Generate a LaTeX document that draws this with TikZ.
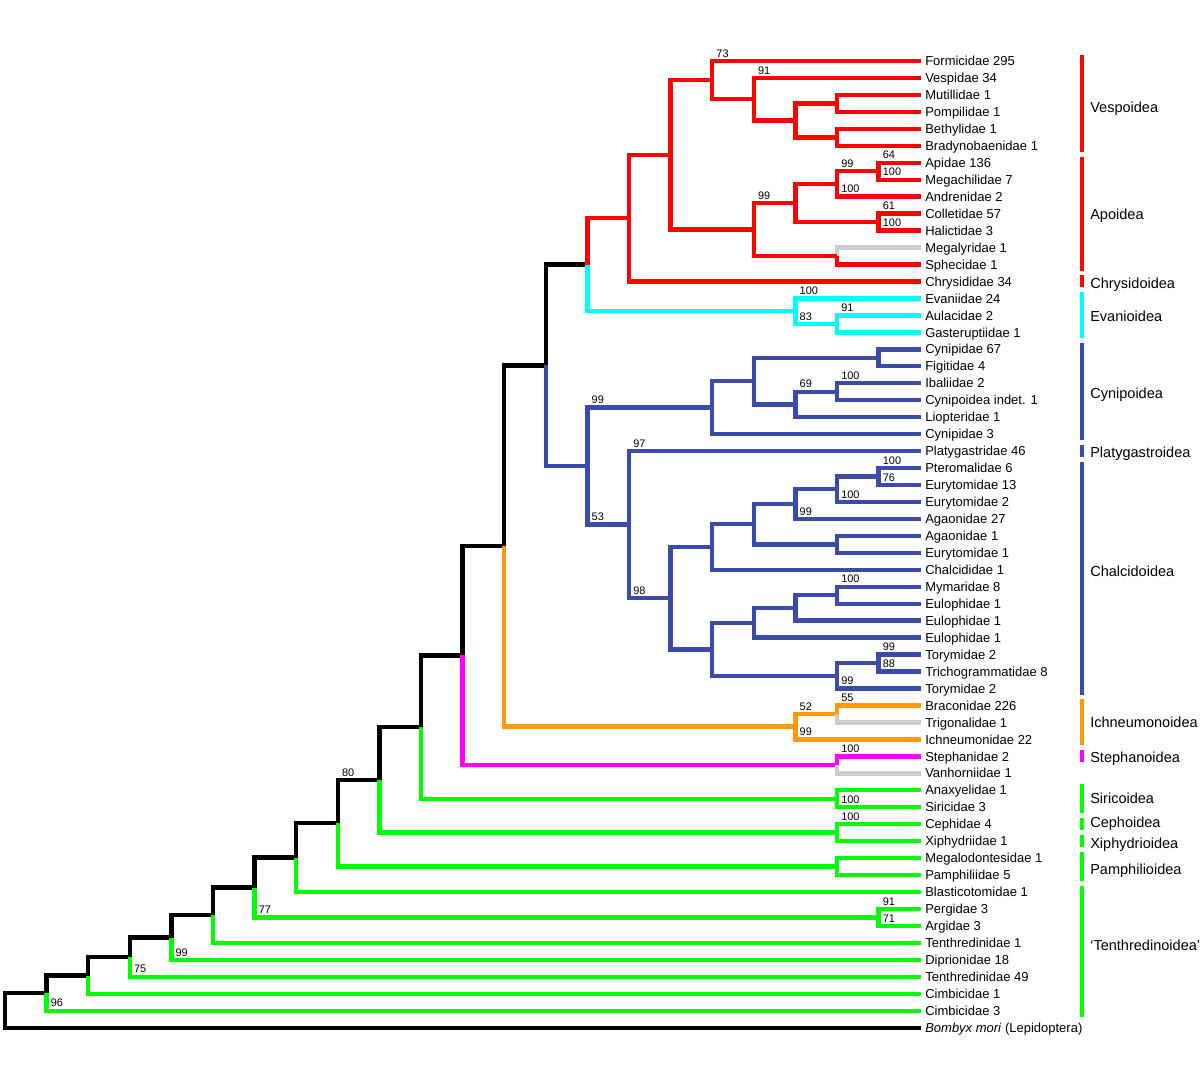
\documentclass[tikz,border=0pt]{standalone}
\usepackage{fontspec}
\setmainfont{Liberation Sans}
\usetikzlibrary{calc}
\definecolor{cladered}{HTML}{FF0000}
\definecolor{cladecyan}{HTML}{00FFFF}
\definecolor{cladeblue}{HTML}{3A4BA8}
\definecolor{cladeorange}{HTML}{FF9A10}
\definecolor{cladepink}{HTML}{FF00FF}
\definecolor{cladegreen}{HTML}{00FF00}
\definecolor{cladegrey}{HTML}{CCCCCC}
\newcommand{\clade}[4]{\path let \p1=(#3), \p2=(#4) in ({(5+41.6*#2)*0.75pt},{(\y1+\y2)/2}) coordinate (#1);}

\begin{document}
\begin{tikzpicture}[x=0.75pt, y=-0.75pt,
  branch/.style={line width=3.3pt},
  groupbar/.style={line width=3.2pt},
  leaf/.style={anchor=base west, inner sep=0pt, xshift=3pt, yshift=-3.5pt, font=\fontsize{9.75}{11}\selectfont},
  support/.style={anchor=base west, inner sep=0pt, xshift=3pt, yshift=2.9pt, font=\fontsize{8.2}{9}\selectfont},
  group/.style={anchor=base west, inner sep=0pt, yshift=-3.9pt, font=\fontsize{10.9}{12}\selectfont}]
\path[use as bounding box, fill=white] (0,0) rectangle (1200,1091);

\foreach \t [count=\i] in {Formicidae 295, Vespidae 34, Mutillidae 1, Pompilidae 1, Bethylidae 1,
  Bradynobaenidae 1, Apidae 136, Megachilidae 7, Andrenidae 2, Colletidae 57, Halictidae 3,
  Megalyridae 1, Sphecidae 1, Chrysididae 34, Evaniidae 24, Aulacidae 2, Gasteruptiidae 1,
  Cynipidae 67, Figitidae 4, Ibaliidae 2, Cynipoidea indet. 1, Liopteridae 1, Cynipidae 3,
  Platygastridae 46, Pteromalidae 6, Eurytomidae 13, Eurytomidae 2, Agaonidae 27, Agaonidae 1,
  Eurytomidae 1, Chalcididae 1, Mymaridae 8, Eulophidae 1, Eulophidae 1, Eulophidae 1,
  Torymidae 2, Trichogrammatidae 8, Torymidae 2, Braconidae 226, Trigonalidae 1, Ichneumonidae 22,
  Stephanidae 2, Vanhorniidae 1, Anaxyelidae 1, Siricidae 3, Cephidae 4, Xiphydriidae 1,
  Megalodontesidae 1, Pamphiliidae 5, Blasticotomidae 1, Pergidae 3, Argidae 3, Tenthredinidae 1,
  Diprionidae 18, Tenthredinidae 49, Cimbicidae 1, Cimbicidae 3, {\textit{Bombyx mori} (Lepidoptera)}}{
  \coordinate (L\i) at (921,{61+16.96*(\i-1)});
  \node[leaf] (T\i) at (L\i) {\t};
}

\foreach \nm/\lv/\ca/\cb in {vesp3/20/L3/L4, vesp4/20/L5/L6, vesp2/19/vesp3/vesp4, vesp1/18/L2/vesp2,
  vesp/17/L1/vesp1, apo3/21/L7/L8, apo2/20/apo3/L9, apo4/21/L10/L11, apo1/19/apo2/apo4,
  apo5/20/L12/L13, apo/18/apo1/apo5, acul/16/vesp/apo, aculr/15/acul/L14,
  evan1/20/L16/L17, evan/19/L15/evan1, aceva/14/aculr/evan,
  cyn2/21/L18/L19, cyn4/20/L20/L21, cyn3/19/cyn4/L22, cyn1/18/cyn2/cyn3, cyn/17/cyn1/L23,
  ch1/21/L25/L26, ch2/20/ch1/L27, ch3/19/ch2/L28, ch4/20/L29/L30, ch5/18/ch3/ch4, ch6/17/ch5/L31,
  ch7/20/L32/L33, ch8/19/ch7/L34, ch9/18/ch8/L35, ch10/21/L36/L37, ch11/20/ch10/L38,
  ch12/17/ch9/ch11, chal/16/ch6/ch12, platy/15/L24/chal, prot/14/cyn/platy, bb13/13/aceva/prot,
  ichn1/20/L39/L40, ichn/19/ichn1/L41, bb12/12/bb13/ichn, steph/20/L42/L43, bb11/11/bb12/steph,
  siri/20/L44/L45, bb10/10/bb11/siri, ceph/20/L46/L47, bb9/9/bb10/ceph, pamph/20/L48/L49,
  bb8/8/bb9/pamph, bb7/7/bb8/L50, perg/21/L51/L52, bb6/6/bb7/perg, bb5/5/bb6/L53, bb4/4/bb5/L54,
  bb3/3/bb4/L55, bb2/2/bb3/L56, bb1/1/bb2/L57, bb0/0/bb1/L58}
  \clade{\nm}{\lv}{\ca}{\cb};

\foreach \pn/\cn in {bb0/bb1, bb0/L58, bb1/bb2, bb2/bb3, bb3/bb4, bb4/bb5, bb5/bb6, bb6/bb7,
  bb7/bb8, bb8/bb9, bb9/bb10, bb10/bb11, bb11/bb12, bb12/bb13, bb13/aceva}
  \draw[branch, black] (\pn) |- (\cn);
\foreach \pn/\cn in {bb1/L57, bb2/L56, bb3/L55, bb4/L54, bb5/L53, bb6/perg, perg/L51, perg/L52,
  bb7/L50, bb8/pamph, pamph/L48, pamph/L49, bb9/ceph, ceph/L46, ceph/L47, bb10/siri, siri/L44, siri/L45}
  \draw[branch, cladegreen] (\pn) |- (\cn);
\foreach \pn/\cn in {bb11/steph, steph/L42}
  \draw[branch, cladepink] (\pn) |- (\cn);
\foreach \pn/\cn in {bb12/ichn, ichn/ichn1, ichn/L41, ichn1/L39}
  \draw[branch, cladeorange] (\pn) |- (\cn);
\foreach \pn/\cn in {steph/L43, ichn1/L40, apo5/L12}
  \draw[branch, cladegrey] (\pn) |- (\cn);
\foreach \pn/\cn in {bb13/prot, prot/cyn, prot/platy, cyn/cyn1, cyn/L23, cyn1/cyn2, cyn1/cyn3,
  cyn2/L18, cyn2/L19, cyn3/cyn4, cyn3/L22, cyn4/L20, cyn4/L21, platy/L24, platy/chal, chal/ch6,
  chal/ch12, ch6/ch5, ch6/L31, ch5/ch3, ch5/ch4, ch3/ch2, ch3/L28, ch2/ch1, ch2/L27, ch1/L25,
  ch1/L26, ch4/L29, ch4/L30, ch12/ch9, ch12/ch11, ch9/ch8, ch9/L35, ch8/ch7, ch8/L34, ch7/L32,
  ch7/L33, ch11/ch10, ch11/L38, ch10/L36, ch10/L37}
  \draw[branch, cladeblue] (\pn) |- (\cn);
\foreach \pn/\cn in {aceva/evan, evan/L15, evan/evan1, evan1/L16, evan1/L17}
  \draw[branch, cladecyan] (\pn) |- (\cn);
\foreach \pn/\cn in {aceva/aculr, aculr/acul, aculr/L14, acul/vesp, acul/apo, vesp/L1, vesp/vesp1,
  vesp1/L2, vesp1/vesp2, vesp2/vesp3, vesp2/vesp4, vesp3/L3, vesp3/L4, vesp4/L5, vesp4/L6,
  apo/apo1, apo/apo5, apo1/apo2, apo1/apo4, apo2/apo3, apo2/L9, apo3/L7, apo3/L8, apo4/L10,
  apo4/L11, apo5/L13}
  \draw[branch, cladered] (\pn) |- (\cn);

\foreach \pn/\cn/\val [count=\k] in {vesp/L1/73, vesp1/L2/91, apo/apo1/99, apo2/apo3/99, apo2/L9/100,
  apo3/L7/64, apo3/L8/100, apo4/L10/61, apo4/L11/100, evan/L15/100, evan/evan1/83, evan1/L16/91,
  cyn3/cyn4/69, cyn4/L20/100, prot/cyn/99, prot/platy/53, platy/L24/97, platy/chal/98,
  ch1/L25/100, ch1/L26/76, ch2/L27/100, ch3/L28/99, ch7/L32/100, ch10/L36/99, ch10/L37/88,
  ch11/L38/99, ichn/ichn1/52, ichn/L41/99, ichn1/L39/55, steph/L42/100, siri/L45/100,
  ceph/L46/100, perg/L51/91, perg/L52/71, bb8/bb9/80, bb6/perg/77, bb4/L54/99, bb3/L55/75,
  bb1/L57/96}
  \node[support] (bs\k) at (\pn |- \cn) {\val};

\foreach \a/\b/\col/\lab/\yy in {1/6/cladered/Vespoidea/107, 7/13/cladered/Apoidea/214,
  14/14/cladered/Chrysidoidea/283, 15/17/cladecyan/Evanioidea/316, 18/23/cladeblue/Cynipoidea/393,
  24/24/cladeblue/Platygastroidea/452, 25/38/cladeblue/Chalcidoidea/571,
  39/41/cladeorange/Ichneumonoidea/722, 42/42/cladepink/Stephanoidea/757,
  44/45/cladegreen/Siricoidea/798, 46/46/cladegreen/Cephoidea/822,
  47/47/cladegreen/Xiphydrioidea/843, 48/49/cladegreen/Pamphilioidea/869,
  50/57/cladegreen/{`Tenthredinoidea'}/945}{
  \draw[groupbar, draw=\col] ($(L\a)+(161,-6)$) -- ($(L\b)+(161,6)$);
  \node[group] (g\a) at (1090,\yy) {\lab};
}
\end{tikzpicture}
\end{document}
